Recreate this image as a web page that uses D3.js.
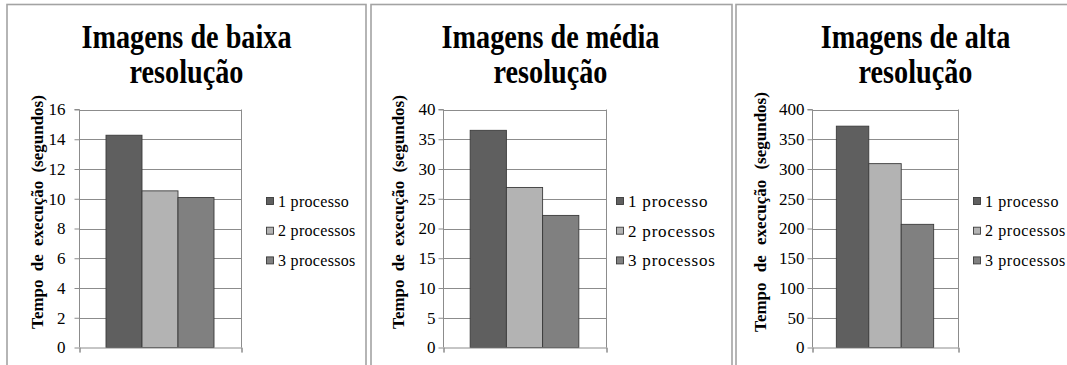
<!DOCTYPE html>
<html>
<head>
<meta charset="utf-8">
<script src="https://cdn.jsdelivr.net/npm/d3@7"></script>
<style>
  body { margin: 0; background: #fff; }
  svg { display: block; }
</style>
</head>
<body>
<svg id="chart" width="1067" height="365"></svg>
<script>
// Execution time per number of processes, one chart per image resolution
const series = ["1 processo", "2 processos", "3 processos"];
const titleLines = [
  ["Imagens de baixa", "resolução"],
  ["Imagens de média", "resolução"],
  ["Imagens de alta", "resolução"]
];
const lowResTimes = [14.27, 10.53, 10.08];
const mediumResTimes = [36.5, 26.9, 22.2];
const highResTimes = [372, 309, 207];
const axisMax = [16, 40, 400];
const axisStep = [2, 5, 50];
const yAxisTitle = "Tempo de execução (segundos)";

const seriesColors = ["#5f5f5f", "#b3b3b3", "#808080"];
const SERIF = "'Liberation Serif', 'Times New Roman', serif";

// Panel geometry
const panels = [
  { x0: 7, x1: 366, plotL: 79, plotR: 241, legendX: 266, legendSize: 16, legendSpacing: 0.3,
    yTitleX: 37, yTitleSpacing: 4, labelPad: 9 },
  { x0: 371, x1: 732, plotL: 443, plotR: 606, legendX: 616, legendSize: 17, legendSpacing: 0.8,
    yTitleX: 398, yTitleSpacing: 4, labelPad: 3 },
  { x0: 736, x1: 1080, plotL: 812, plotR: 958, legendX: 973, legendSize: 16, legendSpacing: 0.6,
    yTitleX: 760, yTitleSpacing: 6, labelPad: 3 }
];
const plotTop = 109.5, plotBottom = 347.5;
const allValues = [lowResTimes, mediumResTimes, highResTimes];

const svg = d3.select("#chart");

panels.forEach((p, i) => {
  const g = svg.append("g");

  // panel frame
  g.append("rect")
    .attr("x", p.x0).attr("y", 4.5)
    .attr("width", p.x1 - p.x0).attr("height", 400)
    .attr("fill", "#fff").attr("stroke", "#a3a3a3").attr("stroke-width", 1.6);

  // title, centred over a 359px wide panel
  const cx = p.x0 + 179.5;
  const t = g.append("text")
    .attr("text-anchor", "middle")
    .style("font-family", SERIF)
    .style("font-weight", "bold")
    .style("font-size", "34px")
    .attr("transform", `translate(${cx},0) scale(0.83,1)`);
  titleLines[i].forEach((line, k) => {
    t.append("tspan").attr("x", 0).attr("y", 48 + k * 35).text(line);
  });

  const values = allValues[i];
  const y = d3.scaleLinear().domain([0, axisMax[i]]).range([plotBottom, plotTop]);
  const group = d3.scaleBand().domain([""]).range([p.plotL, p.plotR])
    .paddingInner(0).paddingOuter(0.25);
  const x = d3.scaleBand().domain(series)
    .range([group(""), group("") + group.bandwidth()]);

  const ticks = d3.range(0, axisMax[i] + axisStep[i] / 2, axisStep[i]);

  // gridlines
  g.append("g").selectAll("line").data(ticks.filter(d => d > 0)).join("line")
    .attr("x1", p.plotL).attr("x2", p.plotR)
    .attr("y1", d => Math.round(y(d)) + 0.5).attr("y2", d => Math.round(y(d)) + 0.5)
    .attr("stroke", "#8c8c8c").attr("stroke-width", 1);
  // right edge of the plot area
  g.append("line")
    .attr("x1", p.plotR + 0.5).attr("x2", p.plotR + 0.5)
    .attr("y1", y(axisMax[i])).attr("y2", plotBottom)
    .attr("stroke", "#8c8c8c");

  // bars
  g.append("g").selectAll("rect").data(values).join("rect")
    .attr("x", (d, k) => x(series[k]))
    .attr("width", x.bandwidth())
    .attr("y", d => y(d))
    .attr("height", d => plotBottom - y(d))
    .attr("fill", (d, k) => seriesColors[k])
    .attr("stroke", "#3a3a3a").attr("stroke-width", 0.9);

  // y axis
  const yAxis = d3.axisLeft(y).tickValues(ticks).tickSize(5).tickPadding(p.labelPad)
    .tickFormat(d3.format("d"));
  const ay = g.append("g").attr("transform", `translate(${p.plotL + 0.5},0)`).call(yAxis);
  ay.select(".domain").attr("stroke", "#8c8c8c").attr("d", `M-5,${y(axisMax[i])}H0V${plotBottom}`);
  ay.selectAll(".tick line").attr("stroke", "#8c8c8c");
  ay.selectAll(".tick text")
    .style("font-family", SERIF).style("font-size", "17px").attr("fill", "#000");

  // x axis (single category, tick marks at its edges)
  const ax = d3.axisBottom(d3.scaleLinear().domain([0, 1]).range([p.plotL, p.plotR]))
    .tickValues([0, 1]).tickSize(5).tickFormat("");
  const axG = g.append("g").attr("transform", `translate(0.5,${plotBottom})`).call(ax);
  axG.selectAll("path, line").attr("stroke", "#8c8c8c");

  // y axis title
  g.append("text")
    .attr("transform", `translate(${p.yTitleX},${212}) rotate(-90)`)
    .attr("text-anchor", "middle")
    .style("font-family", SERIF)
    .style("font-weight", "bold")
    .style("font-size", "17px")
    .style("word-spacing", p.yTitleSpacing + "px")
    .attr("dy", "0.35em")
    .text(yAxisTitle);

  // legend
  const lg = g.append("g").selectAll("g").data(series).join("g")
    .attr("transform", (d, k) => `translate(${p.legendX},${201 + k * 29.7})`);
  lg.append("rect").attr("x", 0.5).attr("y", -3.5).attr("width", 7).attr("height", 7)
    .attr("fill", (d, k) => seriesColors[k]).attr("stroke", "#3a3a3a").attr("stroke-width", 0.9);
  lg.append("text").attr("x", 12).attr("dy", "0.35em")
    .style("font-family", SERIF).style("font-size", p.legendSize + "px")
    .style("letter-spacing", p.legendSpacing + "px")
    .text(d => d);
});
</script>
</body>
</html>
